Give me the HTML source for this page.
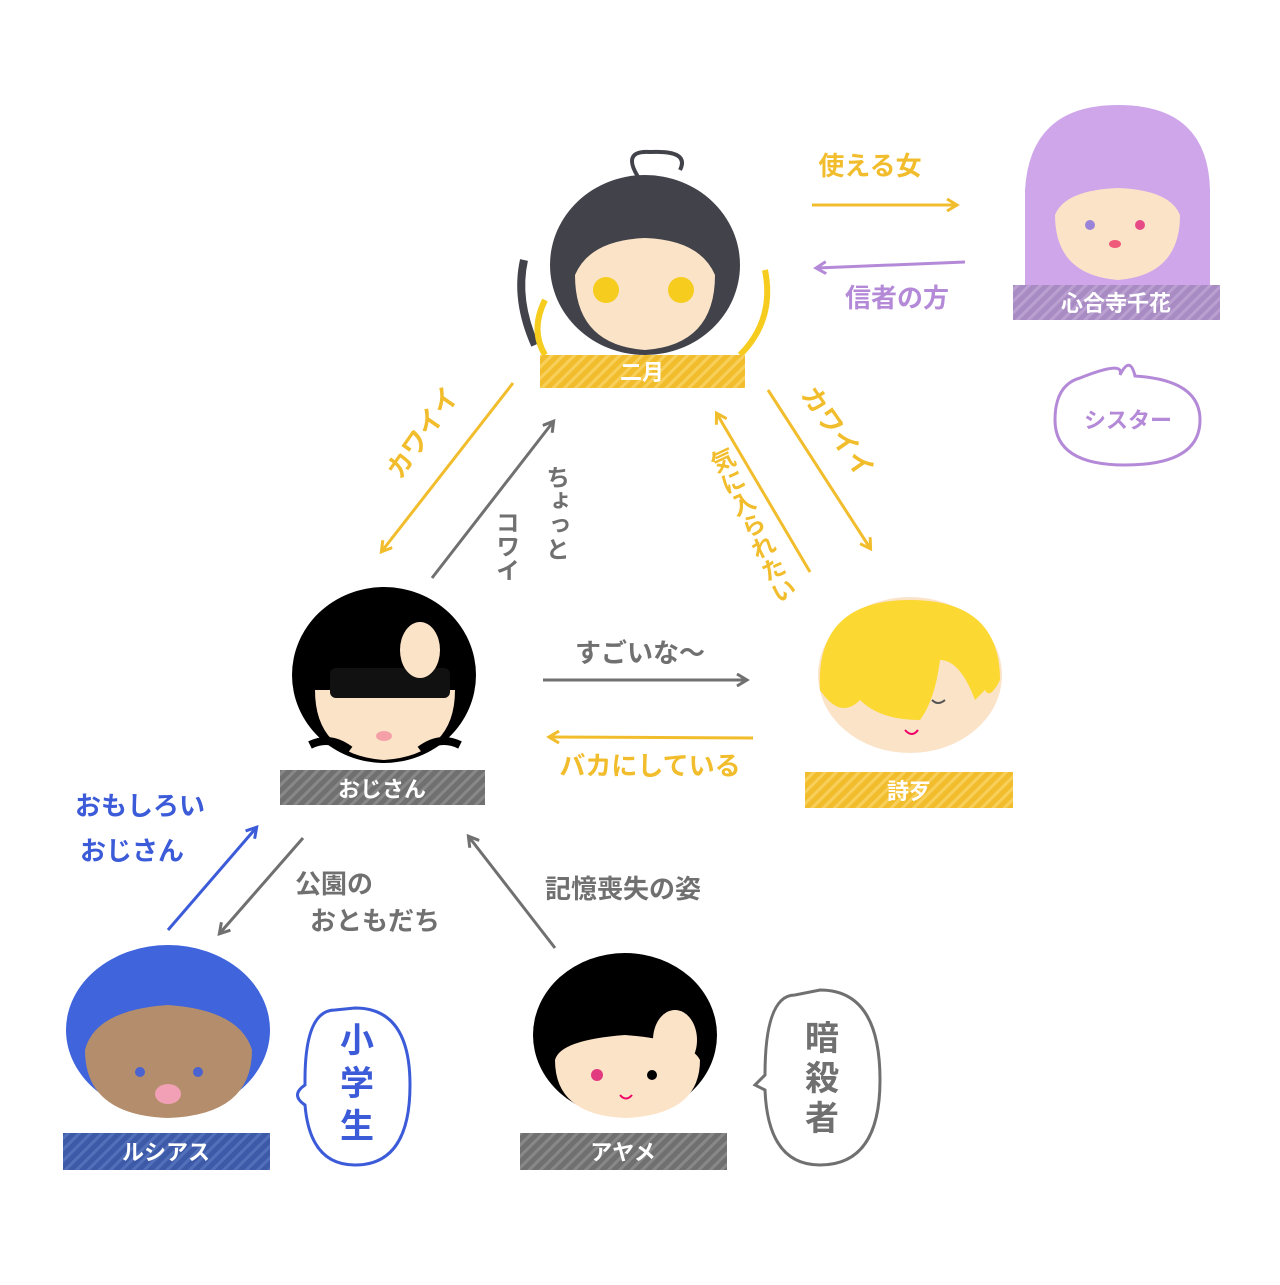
<!DOCTYPE html>
<html><head><meta charset="utf-8"><style>
html,body{margin:0;padding:0;background:#fff;}
svg text{font-family:"Liberation Sans","Noto Sans CJK JP",sans-serif;font-weight:bold;}
</style></head><body>
<svg width="1280" height="1280" viewBox="0 0 1280 1280" xmlns="http://www.w3.org/2000/svg">
<defs>
<pattern id="hy" width="8" height="8" patternUnits="userSpaceOnUse" patternTransform="rotate(45)"><rect width="8" height="8" fill="#f2bd2c"/><rect width="3" height="8" fill="#f7cf5a"/></pattern>
<pattern id="hp" width="8" height="8" patternUnits="userSpaceOnUse" patternTransform="rotate(45)"><rect width="8" height="8" fill="#a98bc4"/><rect width="3" height="8" fill="#b9a0d0"/></pattern>
<pattern id="hg" width="8" height="8" patternUnits="userSpaceOnUse" patternTransform="rotate(45)"><rect width="8" height="8" fill="#707070"/><rect width="3" height="8" fill="#888"/></pattern>
<pattern id="hb" width="8" height="8" patternUnits="userSpaceOnUse" patternTransform="rotate(45)"><rect width="8" height="8" fill="#3c5aa8"/><rect width="3" height="8" fill="#5270ba"/></pattern>
<marker id="ay" markerWidth="14" markerHeight="14" refX="10" refY="7" orient="auto" markerUnits="userSpaceOnUse"><path d="M1,1 L11,7 L1,13" fill="none" stroke="#f2bd2c" stroke-width="3"/></marker>
<marker id="ag" markerWidth="14" markerHeight="14" refX="10" refY="7" orient="auto" markerUnits="userSpaceOnUse"><path d="M1,1 L11,7 L1,13" fill="none" stroke="#707070" stroke-width="3"/></marker>
<marker id="ap" markerWidth="14" markerHeight="14" refX="10" refY="7" orient="auto" markerUnits="userSpaceOnUse"><path d="M1,1 L11,7 L1,13" fill="none" stroke="#b48ad8" stroke-width="3"/></marker>
<marker id="ab" markerWidth="14" markerHeight="14" refX="10" refY="7" orient="auto" markerUnits="userSpaceOnUse"><path d="M1,1 L11,7 L1,13" fill="none" stroke="#3c5bd8" stroke-width="3"/></marker>
</defs>

<path d="M640,180 Q620,150 650,152 Q690,150 680,170" fill="none" stroke="#42434a" stroke-width="4"/>
<ellipse cx="645" cy="265" rx="95" ry="90" fill="#42434a"/>
<path d="M575,275 Q575,345 645,350 Q715,345 715,275 Q700,240 645,238 Q590,240 575,275Z" fill="#fbe3c8"/>
<circle cx="606" cy="290" r="13" fill="#f6cd1e"/><circle cx="681" cy="290" r="13" fill="#f6cd1e"/>
<path d="M524,260 Q515,300 535,345" fill="none" stroke="#42434a" stroke-width="8"/>
<path d="M765,270 Q775,320 740,355 M545,300 Q530,330 545,355" fill="none" stroke="#f6cd1e" stroke-width="6"/>
<rect x="540" y="355" width="205" height="33" fill="url(#hy)"/>
<text x="642" y="380" font-size="22" fill="#fff" text-anchor="middle">二月</text>

<path d="M1025,290 L1025,190 Q1030,105 1118,105 Q1208,105 1210,190 L1210,290Z" fill="#cfa6ea"/>
<path d="M1055,215 Q1055,275 1118,280 Q1180,275 1180,215 Q1170,190 1118,188 Q1065,190 1055,215Z" fill="#fbe3c8"/>
<circle cx="1090" cy="225" r="5" fill="#9a84d8"/><circle cx="1140" cy="225" r="5" fill="#e64a86"/>
<ellipse cx="1115" cy="244" rx="6" ry="4" fill="#f05a7a"/>
<rect x="1013" y="285" width="207" height="35" fill="url(#hp)"/>
<text x="1116" y="311" font-size="22" fill="#fff" text-anchor="middle">心合寺千花</text>
<path d="M1080,378 Q1125,360 1120,375 Q1130,355 1135,376 Q1200,380 1200,420 Q1200,465 1125,465 Q1055,465 1055,420 Q1055,385 1080,378Z" fill="none" stroke="#b48ad8" stroke-width="3"/>
<text x="1128" y="428" font-size="22" fill="#b48ad8" text-anchor="middle">シスター</text>

<ellipse cx="384" cy="675" rx="92" ry="88" fill="#000"/>
<path d="M315,690 Q315,755 384,760 Q455,755 455,690Z" fill="#fbe3c8"/>
<rect x="330" y="668" width="120" height="30" fill="#111" rx="6"/>
<ellipse cx="420" cy="650" rx="20" ry="28" fill="#fbe3c8"/>
<ellipse cx="384" cy="736" rx="8" ry="5" fill="#f5a0a8"/>
<path d="M310,745 Q330,735 350,750 M420,750 Q440,735 460,745" stroke="#000" stroke-width="8" fill="none"/>
<rect x="280" y="770" width="205" height="35" fill="url(#hg)"/>
<text x="382" y="797" font-size="22" fill="#fff" text-anchor="middle">おじさん</text>

<ellipse cx="910" cy="675" rx="92" ry="78" fill="#fbe3c8"/>
<path d="M820,690 Q815,600 910,600 Q1000,600 1000,680 Q990,700 985,690 L975,700 Q960,660 940,660 Q935,700 920,720 Q880,720 860,700 Q840,720 820,690Z" fill="#fbd832"/>
<path d="M932,700 Q938,706 945,700" stroke="#555" stroke-width="2" fill="none"/>
<path d="M905,730 Q912,738 918,730" stroke="#e06" stroke-width="2" fill="none"/>
<rect x="805" y="772" width="208" height="36" fill="url(#hy)"/>
<text x="909" y="799" font-size="22" fill="#fff" text-anchor="middle">詩歹</text>

<ellipse cx="168" cy="1030" rx="102" ry="85" fill="#3f64dc"/>
<path d="M85,1050 Q85,1115 168,1118 Q252,1115 252,1050 Q240,1010 168,1005 Q95,1010 85,1050Z" fill="#b48e6c"/>
<circle cx="140" cy="1072" r="5" fill="#4a63d0"/><circle cx="198" cy="1072" r="5" fill="#4a63d0"/>
<ellipse cx="168" cy="1094" rx="13" ry="10" fill="#f2a0b6"/>
<rect x="63" y="1133" width="207" height="37" fill="url(#hb)"/>
<text x="166" y="1160" font-size="22" fill="#fff" text-anchor="middle">ルシアス</text>
<path d="M335,1010 Q305,1010 305,1080 L305,1085 Q290,1095 305,1105 Q310,1165 355,1165 Q410,1165 410,1085 Q410,1008 355,1008Z" fill="none" stroke="#3c5bd8" stroke-width="3"/>
<text x="357" y="1052" font-size="34" fill="#3c5bd8" text-anchor="middle">小</text>
<text x="357" y="1095" font-size="34" fill="#3c5bd8" text-anchor="middle">学</text>
<text x="357" y="1138" font-size="34" fill="#3c5bd8" text-anchor="middle">生</text>

<ellipse cx="625" cy="1035" rx="92" ry="82" fill="#000"/>
<path d="M555,1060 Q555,1115 625,1118 Q700,1115 700,1060 Q690,1040 625,1035 Q560,1040 555,1060Z" fill="#fbe3c8"/>
<ellipse cx="675" cy="1040" rx="22" ry="30" fill="#fbe3c8"/>
<circle cx="597" cy="1075" r="6" fill="#e23a80"/><circle cx="652" cy="1075" r="5" fill="#000"/>
<path d="M620,1095 Q626,1102 632,1095" stroke="#e06" stroke-width="2" fill="none"/>
<rect x="520" y="1133" width="207" height="37" fill="url(#hg)"/>
<text x="623" y="1160" font-size="22" fill="#fff" text-anchor="middle">アヤメ</text>
<path d="M795,995 Q765,995 765,1075 L755,1085 L765,1090 Q768,1165 820,1165 Q880,1165 880,1080 Q880,990 820,990Z" fill="none" stroke="#707070" stroke-width="3"/>
<text x="822" y="1050" font-size="34" fill="#707070" text-anchor="middle">暗</text>
<text x="822" y="1090" font-size="34" fill="#707070" text-anchor="middle">殺</text>
<text x="822" y="1130" font-size="34" fill="#707070" text-anchor="middle">者</text>

<g stroke-width="3" fill="none">
<line x1="812" y1="205" x2="956" y2="205" stroke="#f2bd2c" marker-end="url(#ay)"/>
<line x1="965" y1="262" x2="817" y2="268" stroke="#b48ad8" marker-end="url(#ap)"/>
<line x1="513" y1="383" x2="382" y2="551" stroke="#f2bd2c" marker-end="url(#ay)"/>
<line x1="432" y1="578" x2="553" y2="422" stroke="#707070" marker-end="url(#ag)"/>
<line x1="810" y1="572" x2="717" y2="414" stroke="#f2bd2c" marker-end="url(#ay)"/>
<line x1="768" y1="390" x2="870" y2="548" stroke="#f2bd2c" marker-end="url(#ay)"/>
<line x1="543" y1="680" x2="746" y2="680" stroke="#707070" marker-end="url(#ag)"/>
<line x1="753" y1="738" x2="550" y2="737" stroke="#f2bd2c" marker-end="url(#ay)"/>
<line x1="168" y1="930" x2="256" y2="828" stroke="#3c5bd8" marker-end="url(#ab)"/>
<line x1="303" y1="838" x2="220" y2="933" stroke="#707070" marker-end="url(#ag)"/>
<line x1="555" y1="948" x2="469" y2="837" stroke="#707070" marker-end="url(#ag)"/>
</g>
<g font-size="26">
<text x="870" y="175" fill="#f2bd2c" text-anchor="middle">使える女</text>
<text x="897" y="307" fill="#b48ad8" text-anchor="middle">信者の方</text>
<text x="0" y="0" fill="#f2bd2c" text-anchor="middle" transform="translate(430,438) rotate(-55)">カワイイ</text>
<text x="0" y="0" fill="#f2bd2c" text-anchor="middle" transform="translate(830,437) rotate(55)">カワイイ</text>
<text x="640" y="662" fill="#707070" text-anchor="middle">すごいな〜</text>
<text x="650" y="775" fill="#f2bd2c" text-anchor="middle">バカにしている</text>
<text x="545" y="898" fill="#707070">記憶喪失の姿</text>
<text x="295" y="893" fill="#707070">公園の</text>
<text x="310" y="930" fill="#707070">おともだち</text>
<text x="75" y="815" fill="#3c5bd8">おもしろい</text>
<text x="80" y="860" fill="#3c5bd8">おじさん</text>
</g>
<g font-size="24" fill="#707070">
<text x="555" y="465" style="writing-mode:vertical-rl">ちょっと</text>
<text x="505" y="510" style="writing-mode:vertical-rl">コワイ</text>
</g>
<text x="715" y="450" font-size="24" fill="#f2bd2c" style="writing-mode:vertical-rl" transform="rotate(-25 715 450)">気に入られたい</text>
</svg>
</body></html>
